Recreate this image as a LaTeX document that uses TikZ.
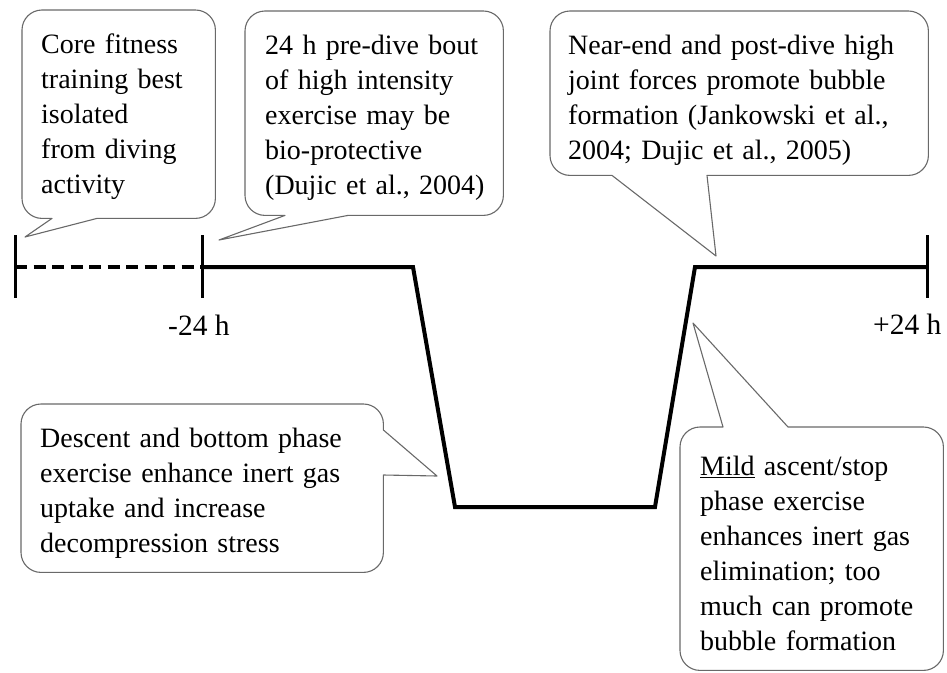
\documentclass[tikz,border=0pt]{standalone}
\usepackage{fontspec}
\setmainfont{Liberation Serif}
\usetikzlibrary{calc}
\definecolor{grisBorde}{RGB}{105,105,105}

\begin{document}
\begin{tikzpicture}[x=1pt, y=-1pt,
    globo/.style={anchor=north west, inner ysep=0pt, align=left, text height=43pt, font=\fontsize{28}{35}\selectfont},
    borde/.style={draw=grisBorde, line width=1.1pt, line join=round},
    perfil/.style={line width=4pt, black},
    marca/.style={line width=3pt, black},
    etiqueta/.style={anchor=base west, inner sep=0pt, font=\fontsize{29.5}{35}\selectfont}]

    \useasboundingbox (0,0) rectangle (947,672);

    \coordinate (ini) at (15,267);
    \coordinate (m24) at (202,267);
    \coordinate (p24) at (927,267);

    \coordinate (pNucleo) at (25,237);
    \coordinate (pPrevio) at (219,240);
    \coordinate (pFinal) at (716,256);
    \coordinate (pDescenso) at (437,476);
    \coordinate (pAscenso) at (693,323);

    \node[globo, inner xsep=19pt, text width=155pt, text depth=165pt] (nucleo) at (22,10) {Core fitness\\training best\\isolated\\from diving\\activity};
    \node[globo, inner xsep=20pt, text width=218pt, text depth=161pt] (previo) at (245,11) {24~h~pre-dive~bout\\of high intensity\\exercise may be\\bio-protective\\(Dujic~et~al.,~2004)};
    \node[globo, inner xsep=18pt, text width=342pt, text depth=121pt] (final) at (550,11) {Near-end and post-dive high\\joint forces promote bubble\\formation (Jankowski et al.,\\2004; Dujic et al., 2005)};
    \node[globo, inner xsep=19pt, text width=324pt, text depth=125pt] (descenso) at (21,404) {Descent and bottom phase\\exercise enhance inert gas\\uptake and increase\\decompression stress};
    \node[globo, inner xsep=20pt, text width=223pt, text height=48pt, text depth=195pt] (ascenso) at (680,427) {\underline{Mild} ascent/stop\\phase exercise\\enhances inert gas\\elimination; too\\much can promote\\bubble formation};

    \draw[borde] ($(nucleo.south west)+(75,0)$) [rounded corners=20pt] -- (nucleo.south east) -- (nucleo.north east) -- (nucleo.north west) -- (nucleo.south west) [sharp corners] -- ($(nucleo.south west)+(30,0)$) -- (pNucleo) -- cycle;
    \draw[borde] ($(previo.south west)+(103,0)$) [rounded corners=20pt] -- (previo.south east) -- (previo.north east) -- (previo.north west) -- (previo.south west) [sharp corners] -- ($(previo.south west)+(40,0)$) -- (pPrevio) -- cycle;
    \draw[borde] ($(final.south west)+(157,0)$) [rounded corners=20pt] -- (final.south east) -- (final.north east) -- (final.north west) -- (final.south west) [sharp corners] -- ($(final.south west)+(62,0)$) -- (pFinal) -- cycle;
    \draw[borde] ($(descenso.north east)+(0,71)$) [rounded corners=20pt] -- (descenso.south east) -- (descenso.south west) -- (descenso.north west) -- (descenso.north east) [sharp corners] -- ($(descenso.north east)+(0,26)$) -- (pDescenso) -- cycle;
    \draw[borde] ($(ascenso.north west)+(43,0)$) [rounded corners=20pt] -- (ascenso.north west) -- (ascenso.south west) -- (ascenso.south east) -- (ascenso.north east) [sharp corners] -- ($(ascenso.north west)+(108,0)$) -- (pAscenso) -- cycle;

    \draw[perfil, dash pattern=on 12pt off 6.5pt] (ini) -- (m24);
    \draw[perfil] (m24) -- (413,267) -- (455,507) -- (655,507) -- (695,267) -- (p24);

    \draw[marca] ($(ini)+(0,-32)$) -- ($(ini)+(0,31)$);
    \draw[marca] ($(m24)+(0,-32)$) -- ($(m24)+(0,31)$);
    \draw[marca] ($(p24)+(0,-32)$) -- ($(p24)+(0,31)$);

    \node[etiqueta] (lblMenos) at (168,335) {-24 h};
    \node[etiqueta] (lblMas) at (873,334) {+24 h};
\end{tikzpicture}
\end{document}
